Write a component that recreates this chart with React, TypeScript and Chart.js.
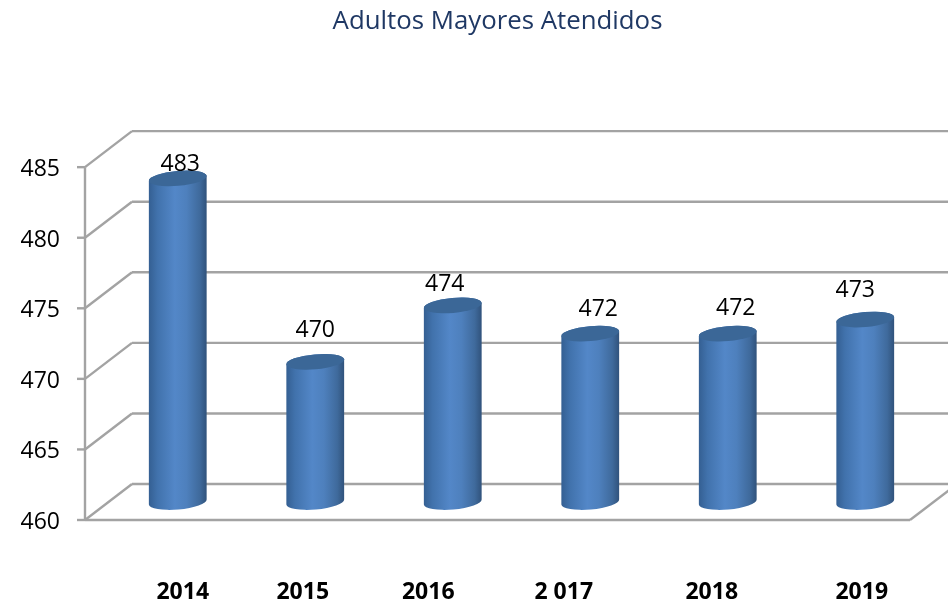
import React, { useEffect, useRef } from "react";
import { Chart, registerables } from "chart.js";

Chart.register(...registerables);

const categories = ["2014", "2015", "2016", "2 017", "2018", "2019"];
const attended = [483, 470, 474, 472, 472, 473];
const axisTicks = [460, 465, 470, 475, 480, 485];
const chartTitle = "Adultos Mayores Atendidos";

const FONT = '"Open Sans", sans-serif';
const GRID = "#a3a3a3";
const DEPTH_X = 47;
const DEPTH_Y = 36;
const ELLIPSE_B = 7.5;
const TILT = (-5 * Math.PI) / 180;
// hand placed label nudges of the original slide
const valueNudgeX = [2.5, 0, -8, 8, 8, -10];
const valueNudgeY = [-14, -31, -21, -24, -25, -29];
const catNudgeX = [5.5, -12, -24, -26, -15.5, -3];

const cylinderPlugin = {
  id: "cylinder3d",
  beforeDatasetsDraw(chart: any) {
    const { ctx, chartArea, scales } = chart;
    const { left, right } = chartArea;
    const y = scales.y;
    ctx.save();
    ctx.strokeStyle = GRID;
    ctx.lineWidth = 2.4;
    ctx.lineCap = "butt";
    const line = (x0: number, y0: number, x1: number, y1: number) => {
      ctx.beginPath();
      ctx.moveTo(x0, y0);
      ctx.lineTo(x1, y1);
      ctx.stroke();
    };
    axisTicks.forEach((t) => {
      const py = y.getPixelForValue(t);
      line(left - 8, py, left, py);
      line(left, py, left + DEPTH_X, py - DEPTH_Y);
      line(left + DEPTH_X, py - DEPTH_Y, chart.width, py - DEPTH_Y);
    });
    const y0 = y.getPixelForValue(axisTicks[0]);
    const yTop = y.getPixelForValue(axisTicks[axisTicks.length - 1]);
    line(left, yTop, left, y0);
    line(left, y0, right, y0);
    line(right, y0, right + DEPTH_X, y0 - DEPTH_Y);
    ctx.restore();

    ctx.save();
    ctx.fillStyle = "#000000";
    ctx.font = `23px ${FONT}`;
    ctx.textAlign = "right";
    ctx.textBaseline = "middle";
    y.ticks.forEach((tick: any) => {
      ctx.fillText(String(tick.value), 60, y.getPixelForValue(tick.value) + 2.5);
    });
    ctx.restore();
  },
  afterDatasetsDraw(chart: any) {
    const { ctx, scales } = chart;
    const bars = chart.getDatasetMeta(0).data;
    bars.forEach((bar: any, i: number) => {
      const { x, y, base, width } = bar.getProps(["x", "y", "base", "width"], true);
      const cx = x + DEPTH_X / 2 + 0.5;
      const top = y - DEPTH_Y / 2 + 1;
      const bottom = base - DEPTH_Y / 2;
      const a = width / 2;
      const g = ctx.createLinearGradient(cx - a, 0, cx + a, 0);
      g.addColorStop(0, "#345f92");
      g.addColorStop(0.15, "#4172ac");
      g.addColorStop(0.45, "#5387c8");
      g.addColorStop(0.65, "#4e80bd");
      g.addColorStop(0.88, "#3f6a9c");
      g.addColorStop(1, "#30527b");
      ctx.save();
      ctx.beginPath();
      ctx.ellipse(cx, bottom, a, ELLIPSE_B, TILT, 0, Math.PI);
      ctx.ellipse(cx, top, a, ELLIPSE_B, TILT, Math.PI, Math.PI * 2);
      ctx.closePath();
      ctx.fillStyle = g;
      ctx.fill();
      ctx.beginPath();
      ctx.ellipse(cx, top, a, ELLIPSE_B, TILT, 0, Math.PI * 2);
      ctx.fillStyle = "#3b6797";
      ctx.fill();
      ctx.restore();

      ctx.save();
      ctx.fillStyle = "#000000";
      ctx.font = `23px ${FONT}`;
      ctx.textAlign = "center";
      ctx.textBaseline = "middle";
      ctx.fillText(String(attended[i]), cx + valueNudgeX[i], top + valueNudgeY[i]);
      ctx.font = `bold 23px ${FONT}`;
      ctx.fillText(categories[i], scales.x.getPixelForValue(i) + DEPTH_X / 2 + catNudgeX[i], 592);
      ctx.restore();
    });
  },
};

export default function App() {
  const ref = useRef<HTMLCanvasElement>(null);
  useEffect(() => {
    const chart = new Chart(ref.current as HTMLCanvasElement, {
      type: "bar",
      data: {
        labels: categories,
        datasets: [
          {
            label: chartTitle,
            data: attended,
            base: axisTicks[0],
            backgroundColor: "rgba(0,0,0,0)",
            borderWidth: 0,
            barThickness: 58,
          },
        ],
      },
      plugins: [cylinderPlugin],
      options: {
        animation: false,
        responsive: false,
        layout: { padding: { left: 0, right: 38, top: 0, bottom: 0 } },
        plugins: {
          legend: { display: false },
          tooltip: { enabled: false },
          title: {
            display: true,
            text: chartTitle,
            fullSize: false,
            color: "#1f3864",
            font: { family: FONT, size: 25.8, weight: "normal" },
            padding: { top: 6, bottom: 130.2 },
          },
        },
        scales: {
          x: {
            grid: { display: false },
            border: { display: false },
            ticks: { display: false },
            afterFit(s: any) {
              s.height = 84;
            },
          },
          y: {
            min: 460,
            max: 485,
            afterFit(s: any) {
              s.width = 85;
            },
            border: { display: false },
            grid: { display: false },
            ticks: {
              stepSize: 5,
              display: false,
            },
          },
        },
      },
    } as any);
    return () => chart.destroy();
  }, []);
  return (
    <div style={{ position: "fixed", left: 0, top: 0, width: 948, height: 604, background: "#ffffff" }}>
      <canvas ref={ref} width={948} height={604} style={{ display: "block" }} />
    </div>
  );
}
